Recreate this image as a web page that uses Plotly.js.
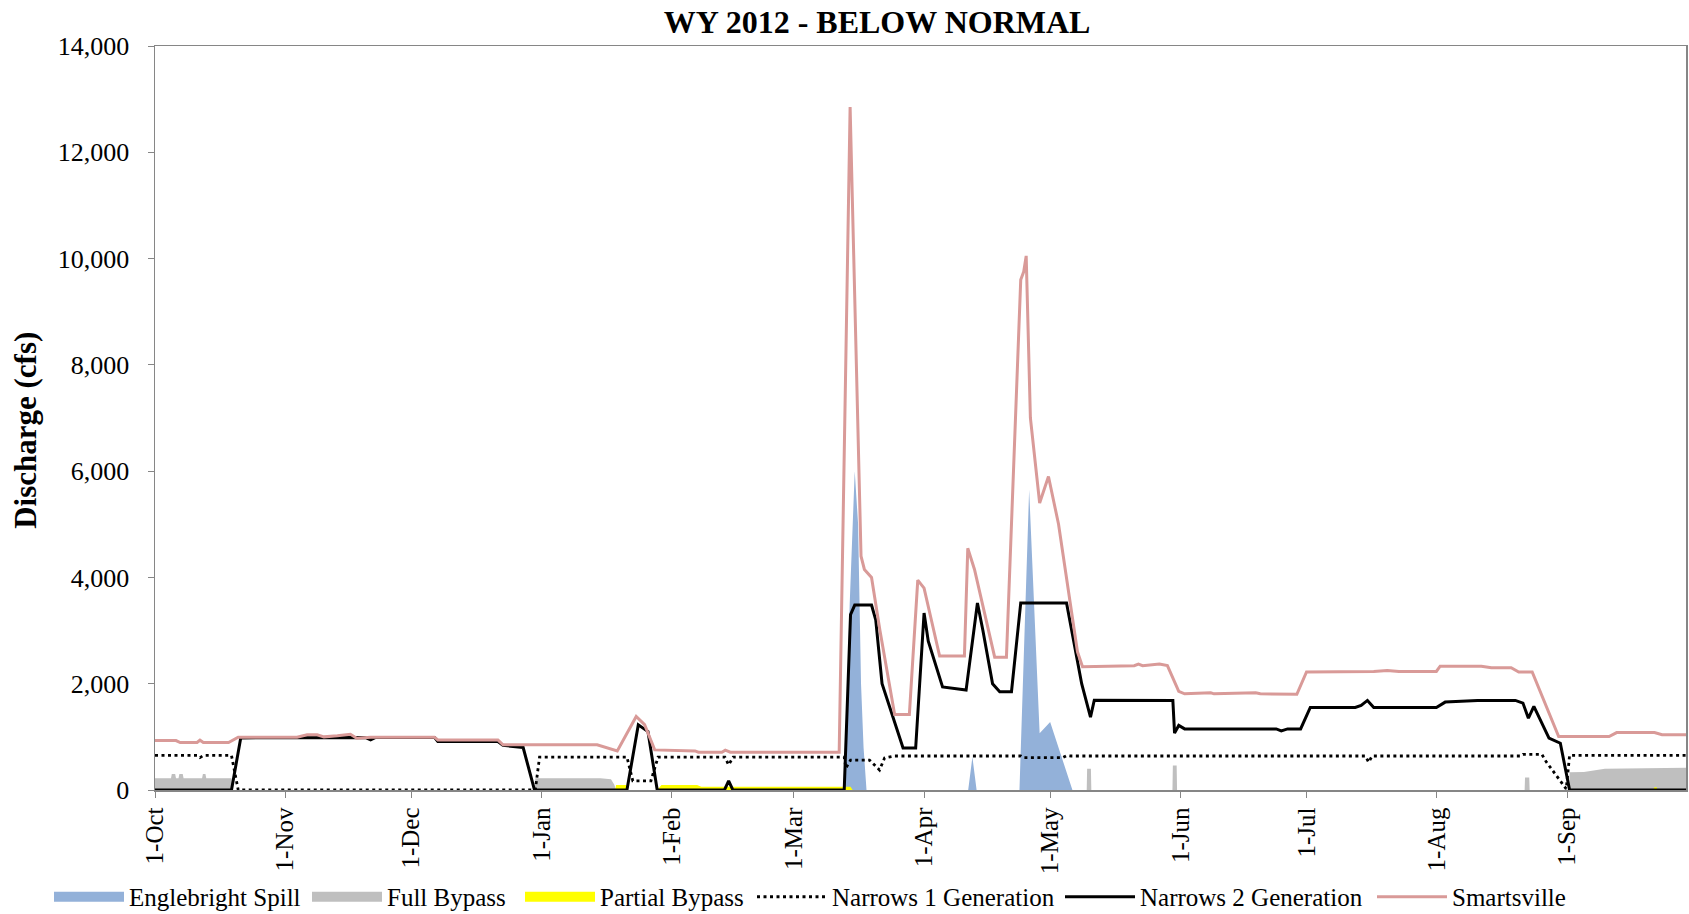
<!DOCTYPE html>
<html>
<head>
<meta charset="utf-8">
<script src="https://cdn.plot.ly/plotly-3.0.1.min.js"></script>
<style>
  html, body { margin: 0; padding: 0; background: #ffffff; }
  #chart { width: 1689px; height: 914px; }
</style>
</head>
<body>
<div id="chart"></div>
<script>
// Day of water year (0 = 1-Oct-2011)
const tickDays = [0, 31, 61, 92, 123, 152, 183, 213, 244, 274, 305, 336];
const tickLabels = ['1-Oct', '1-Nov', '1-Dec', '1-Jan', '1-Feb', '1-Mar', '1-Apr', '1-May', '1-Jun', '1-Jul', '1-Aug', '1-Sep'];
const yTicks = [0, 2000, 4000, 6000, 8000, 10000, 12000, 14000];

// Englebright Spill (cfs)
const spillDay = [0, 164, 165.3, 166.5, 167.3, 168, 168.6, 169.3, 193.5, 194.5, 195.5, 205.7, 208, 210.5, 213, 218.3, 365];
const spillCfs = [0, 0, 3500, 6000, 5000, 2000, 800, 0, 0, 620, 0, 0, 5650, 1070, 1280, 0, 0];

// Full Bypass (cfs)
const fullBypassDay = [0, 3.8, 4, 4.8, 5, 5.6, 5.8, 6.6, 6.8, 11.2, 11.4, 12, 12.2, 18.2, 18.4,
  90.3, 90.5, 106, 108.5, 109.3, 109.7, 221.7, 221.8, 222.7, 222.8, 242.1, 242.2, 243.1, 243.2,
  325.9, 326, 327, 327.1, 336.5, 336.6, 340, 345, 365];
const fullBypassCfs = [220, 220, 300, 300, 220, 220, 300, 300, 220, 220, 300, 300, 220, 220, 0,
  0, 220, 220, 200, 100, 0, 0, 400, 400, 0, 0, 460, 460, 0,
  0, 233, 233, 0, 0, 333, 340, 400, 420];

// Partial Bypass (cfs)
const partialBypassDay = [0, 109.5, 109.7, 112.2, 112.4, 119.5, 120.5, 129, 130, 165.5, 166, 356.5, 356.8, 357.3, 357.5, 365];
const partialBypassCfs = [0, 0, 94, 94, 0, 0, 94, 94, 63, 63, 0, 0, 50, 50, 0, 0];

// Narrows 1 Generation (cfs)
const n1Day = [0, 10, 10.7, 11.5, 18.2, 19.8, 90.5, 91.5, 112.3, 113.7, 118, 119.7, 135.6, 136.5, 137.6,
  164, 164.4, 165.5, 170, 172.4, 173.6, 176, 206, 206.5, 216, 217, 218, 288, 288.8, 289.6,
  325, 325.5, 330, 331, 335.8, 336.6, 365];
const n1Cfs = [650, 650, 610, 650, 650, 0, 0, 620, 620, 170, 170, 620, 620, 472, 620,
  620, 414, 564, 564, 376, 602, 640, 640, 610, 610, 650, 640, 640, 522, 640,
  640, 670, 670, 535, 20, 650, 650];

// Narrows 2 Generation (cfs)
const n2Day = [0, 18.2, 20.4, 33.8, 50, 51.3, 52.5, 66.5, 67.3, 81.6, 82.8, 87.6, 90.3,
  112.3, 115, 117.3, 119.5, 135.5, 136.5, 137.5, 164, 165.5, 166.5, 170.5, 171.5, 173, 175, 178,
  181, 183, 184, 187.4, 193, 195.7, 197, 199.3, 201, 203.8, 206, 216.9, 220.5, 221.5, 222.6, 223.5,
  242.2, 242.6, 243.6, 245, 266.8, 268, 269.5, 272.6, 274.9, 285.6, 287, 288.5, 290, 304.9, 307,
  314.7, 323.7, 325.5, 326.8, 328.1, 331.7, 334.4, 336.6, 365];
const n2Cfs = [0, 0, 980, 990, 990, 943, 990, 990, 912, 912, 840, 800, 0,
  0, 1226, 1100, 0, 0, 170, 0, 0, 3300, 3480, 3480, 3200, 2000, 1500, 790,
  790, 3330, 2800, 1940, 1880, 3520, 3000, 2000, 1850, 1850, 3520, 3520, 2000, 1700, 1370, 1690,
  1685, 1070, 1215, 1150, 1150, 1113, 1150, 1150, 1553, 1553, 1590, 1685, 1553, 1553, 1654,
  1685, 1685, 1635, 1352, 1572, 975, 880, 0, 0];

// Smartsville (cfs)
const smartsvilleDay = [0, 5, 6, 10, 10.7, 11.5, 17.5, 19.8, 33.8, 36.2, 38.6, 40.2, 43.4, 45.7, 46.5, 48, 51.3,
  66.5, 67.3, 81.6, 82.8, 105.2, 110, 114.5, 116.5, 118.9, 128.5, 129.3, 134.9, 135.7, 136.9,
  162.8, 165.4, 168, 168.8, 170.5, 172.5, 176, 179.5, 181.5, 183, 186.7, 192.6, 193.4, 195, 199.8,
  202.6, 206, 206.7, 207.3, 208.3, 210.5, 212.6, 215, 217, 219.5, 220.7, 233, 234, 235, 239, 240.9,
  243.6, 245, 251.2, 252, 261.9, 263, 271.7, 274, 290, 293.2, 296, 304.9, 305.8, 315.6, 318, 322.7,
  324.5, 327.7, 334, 346, 347.8, 356.8, 358.6, 365];
const smartsvilleCfs = [930, 930, 893, 893, 937, 893, 893, 994, 994, 1038, 1038, 1000, 1020, 1050, 1050, 975, 994,
  994, 943, 943, 850, 850, 736, 1384, 1230, 755, 736, 711, 711, 750, 711,
  711, 12850, 4400, 4150, 4000, 3000, 1420, 1420, 3950, 3800, 2520, 2520, 4550, 4150, 2500,
  2500, 9600, 9750, 10050, 7000, 5400, 5900, 5000, 3950, 2600, 2320, 2340, 2370, 2340, 2370, 2340,
  1855, 1810, 1830, 1810, 1830, 1810, 1800, 2220, 2230, 2250, 2230, 2230, 2330, 2330, 2300, 2300,
  2220, 2220, 1006, 1006, 1080, 1080, 1040, 1040];

const FONT = 'Liberation Serif, Times New Roman, serif';
const colors = {
  spill: '#93B1D9',
  full: '#BFBFBF',
  partial: '#FFFF00',
  n1: '#000000',
  n2: '#000000',
  smarts: '#D99A98'
};

function area(x, y, color) {
  return { x: x, y: y, type: 'scatter', mode: 'lines', fill: 'tozeroy',
    fillcolor: color, line: { width: 0, color: color }, showlegend: false, hoverinfo: 'skip' };
}
function legendBar(name, color, leg) {
  return { x: [null], y: [null], type: 'scatter', mode: 'lines', name: name, legend: leg,
    line: { color: color, width: 12 }, showlegend: true };
}

const data = [
  legendBar('Englebright Spill', colors.spill, 'legend'),
  legendBar('Full Bypass', colors.full, 'legend2'),
  legendBar('Partial Bypass', colors.partial, 'legend3'),
  area(spillDay, spillCfs, colors.spill),
  area(fullBypassDay, fullBypassCfs, colors.full),
  area(partialBypassDay, partialBypassCfs, colors.partial),
  { x: n1Day, y: n1Cfs, type: 'scatter', mode: 'lines', name: 'Narrows 1 Generation', legend: 'legend4',
    line: { color: colors.n1, width: 2.8, dash: '3px,3.5px' } },
  { x: n2Day, y: n2Cfs, type: 'scatter', mode: 'lines', name: 'Narrows 2 Generation', legend: 'legend5',
    line: { color: colors.n2, width: 3 } },
  { x: smartsvilleDay, y: smartsvilleCfs, type: 'scatter', mode: 'lines', name: 'Smartsville', legend: 'legend6',
    line: { color: colors.smarts, width: 3 } }
];

// legend item symbol start positions (px) as seen in the reference
const legendStarts = [54, 312, 525, 757, 1065, 1377];
function legendAt(px) {
  return {
    orientation: 'h', xref: 'container', yref: 'container',
    x: (px - 5) / 1689, xanchor: 'left', y: 0.0186, yanchor: 'middle',
    itemwidth: 70, font: { family: FONT, size: 25, color: '#000000' },
    bgcolor: 'rgba(0,0,0,0)', borderwidth: 0
  };
}

const layout = {
  width: 1689, height: 914,
  margin: { l: 155, r: 3, t: 46, b: 124 },
  paper_bgcolor: '#ffffff', plot_bgcolor: '#ffffff',
  font: { family: FONT, color: '#000000' },
  title: {
    text: 'WY 2012 - BELOW NORMAL',
    font: { family: FONT, size: 32, weight: 'bold', color: '#000000' },
    xref: 'container', x: 0.5193, xanchor: 'center',
    yref: 'container', y: 0.976, yanchor: 'middle'
  },
  xaxis: {
    type: 'linear', range: [0, 364.3],
    tickmode: 'array', tickvals: tickDays, ticktext: tickLabels,
    tickangle: -90, ticks: 'outside', ticklen: 6, tickwidth: 1, tickcolor: '#868686',
    showline: true, linecolor: '#868686', linewidth: 1.5, mirror: true,
    showgrid: false, zeroline: false,
    tickfont: { family: FONT, size: 25, color: '#000000' }
  },
  yaxis: {
    range: [0, 14000], tickmode: 'array', tickvals: yTicks, tickformat: ',d',
    ticks: 'outside', ticklen: 6, tickwidth: 1, tickcolor: '#868686',
    showline: true, linecolor: '#868686', linewidth: 1.5, mirror: true,
    showgrid: false, zeroline: false, ticklabelstandoff: 13,
    tickfont: { family: FONT, size: 26, color: '#000000' }
  },
  annotations: [{
    text: 'Discharge (cfs)', textangle: -90,
    xref: 'paper', yref: 'paper', x: -0.0843, y: 0.484,
    xanchor: 'center', yanchor: 'middle', showarrow: false,
    font: { family: FONT, size: 31, weight: 'bold', color: '#000000' }
  }],
  legend: legendAt(legendStarts[0]),
  legend2: legendAt(legendStarts[1]),
  legend3: legendAt(legendStarts[2]),
  legend4: legendAt(legendStarts[3]),
  legend5: legendAt(legendStarts[4]),
  legend6: legendAt(legendStarts[5]),
  showlegend: true
};

Plotly.newPlot('chart', data, layout, { displayModeBar: false, staticPlot: true });
</script>
</body>
</html>
